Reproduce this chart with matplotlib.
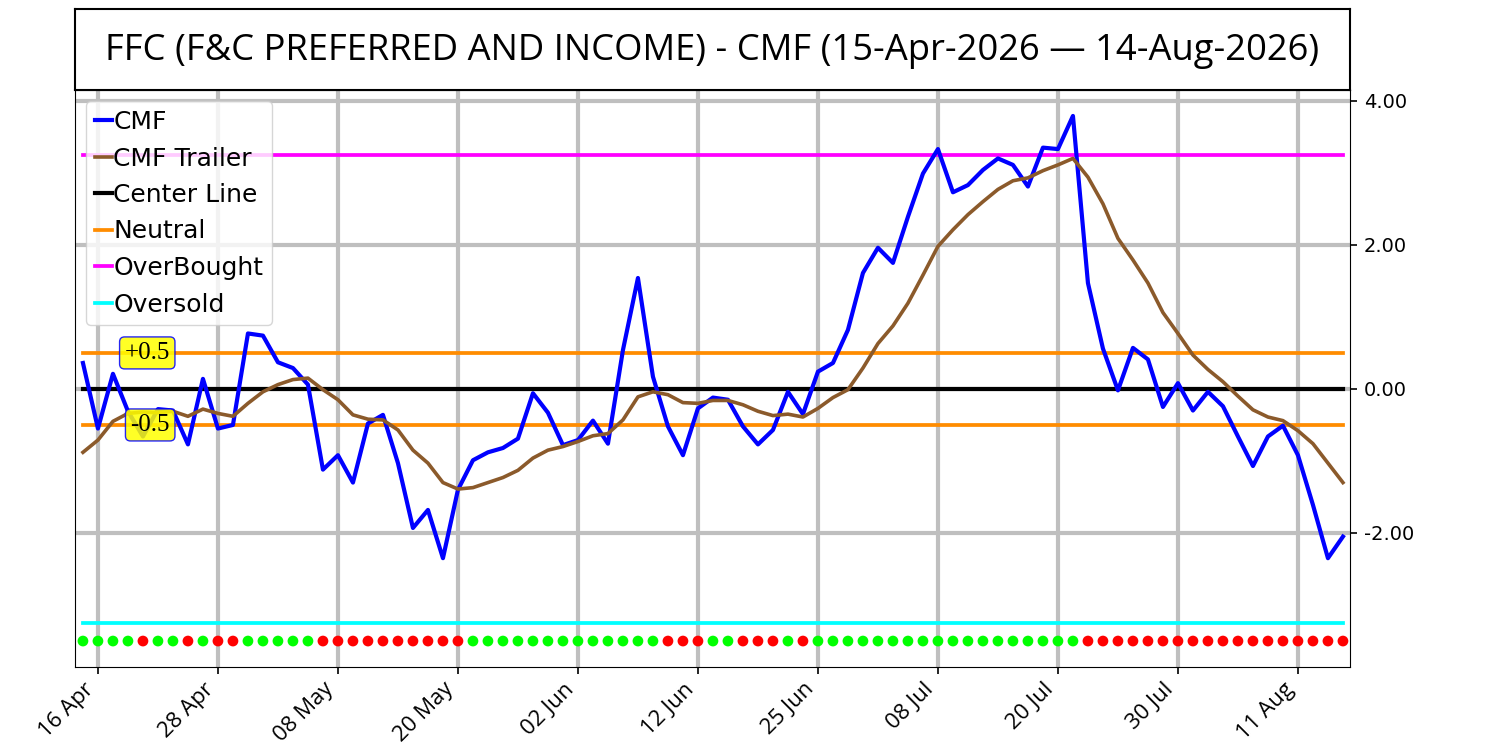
import numpy as np
import matplotlib
matplotlib.use("Agg")
import matplotlib.pyplot as plt

title = "FFC (F&C PREFERRED AND INCOME) - CMF (15-Apr-2026 \u2014 14-Aug-2026)"

cmf = [0.36, -0.55, 0.21, -0.31, -0.66, -0.28, -0.30, -0.77, 0.14, -0.55,
       -0.50, 0.77, 0.74, 0.37, 0.29, 0.06, -1.12, -0.92, -1.30, -0.48,
       -0.36, -1.03, -1.93, -1.68, -2.35, -1.40, -0.99, -0.88, -0.82, -0.69,
       -0.06, -0.33, -0.78, -0.71, -0.44, -0.76, 0.54, 1.54, 0.17, -0.52,
       -0.92, -0.27, -0.12, -0.15, -0.52, -0.77, -0.57, -0.04, -0.35, 0.24,
       0.36, 0.82, 1.61, 1.96, 1.75, 2.39, 2.99, 3.33, 2.73, 2.83,
       3.04, 3.20, 3.11, 2.81, 3.35, 3.33, 3.79, 1.47, 0.56, -0.02,
       0.57, 0.41, -0.25, 0.08, -0.30, -0.04, -0.24, -0.66, -1.07, -0.66,
       -0.51, -0.92, -1.61, -2.35, -2.05]

trailer = [-0.88, -0.71, -0.45, -0.34, -0.32, -0.33, -0.31, -0.38, -0.28, -0.34,
           -0.38, -0.20, -0.04, 0.06, 0.13, 0.15, -0.01, -0.15, -0.36, -0.42,
           -0.43, -0.57, -0.85, -1.03, -1.30, -1.39, -1.37, -1.30, -1.23, -1.13,
           -0.96, -0.85, -0.80, -0.73, -0.65, -0.62, -0.43, -0.11, -0.04, -0.08,
           -0.19, -0.20, -0.16, -0.16, -0.22, -0.31, -0.37, -0.35, -0.39, -0.27,
           -0.12, -0.01, 0.29, 0.63, 0.875, 1.19, 1.58, 1.98, 2.21, 2.42,
           2.60, 2.77, 2.89, 2.93, 3.03, 3.11, 3.20, 2.94, 2.57, 2.09,
           1.79, 1.47, 1.06, 0.77, 0.47, 0.27, 0.10, -0.10, -0.29, -0.39,
           -0.44, -0.58, -0.76, -1.03, -1.30]

# 'G' = green (bullish) dot, 'R' = red (bearish) dot
signal = list("GGGGRGGRGRR" + "GGGGG" + "RRRRRRRRRR" + "GGGGGGGGGGGGG" +
              "RRR" + "GG" + "RRR" + "G" + "R" + "GGGGGGGGGGGGGGGGGG" +
              "RRRRRRRRRRRRRRRRRR")

tick_labels = ["16 Apr", "28 Apr", "08 May", "20 May", "02 Jun", "12 Jun",
               "25 Jun", "08 Jul", "20 Jul", "30 Jul", "11 Aug"]

center_level = 0.0
neutral_hi = 0.5
neutral_lo = -0.5
overbought = 3.25
oversold = -3.25
dot_level = -3.5
y_ticks = [-2.0, 0.0, 2.0, 4.0]

n = len(cmf)
x = np.arange(n)
tick_pos = np.arange(1, n, 8)

fig = plt.figure(figsize=(15, 7.5), dpi=100)
ax = fig.add_axes([0.05, 0.1107, 0.85, 0.7693])
tax = fig.add_axes([0.05, 0.88, 0.85, 0.108])
tax.set_xticks([]); tax.set_yticks([])
for s in tax.spines.values():
    s.set_linewidth(1.5)
tax.text(0.5, 0.48, title, ha="center", va="center", fontsize=26.2,
         family=["Open Sans", "DejaVu Sans"], transform=tax.transAxes)

grid_kw = dict(color="#bfbfbf", lw=3, zorder=0)
for tp in tick_pos:
    ax.axvline(tp, **grid_kw)
for yt in y_ticks:
    ax.axhline(yt, **grid_kw)

ax.plot(x, cmf, color="#0000ff", lw=3, label="CMF", zorder=3)
ax.plot(x, trailer, color="#8b5a2b", lw=2.6, label="CMF Trailer", zorder=3)
ax.plot(x, np.full(n, center_level), color="black", lw=3, label="Center Line", zorder=2)
ax.plot(x, np.full(n, neutral_hi), color="#ff8c00", lw=2.7, label="Neutral", zorder=2)
ax.plot(x, np.full(n, neutral_lo), color="#ff8c00", lw=2.7, zorder=2)
ax.plot(x, np.full(n, overbought), color="#ff00ff", lw=2.7, label="OverBought", zorder=2)
ax.plot(x, np.full(n, oversold), color="#00ffff", lw=2.7, label="Oversold", zorder=2)

dot_colors = ["#00ff00" if s == "G" else "#ff0000" for s in signal]
ax.scatter(x, np.full(n, dot_level), c=dot_colors, s=60, zorder=4, linewidths=0)

box = dict(boxstyle="round,pad=0.2", fc="yellow", ec="blue", alpha=0.85)
ax.text(5.8, neutral_hi, "+0.5", ha="right", va="center", fontsize=18,
        family="Liberation Serif", bbox=box, zorder=5)
ax.text(5.8, neutral_lo, "-0.5", ha="right", va="center", fontsize=18,
        family="Liberation Serif", bbox=box, zorder=5)

ax.set_xlim(-0.53, 84.47)
ax.set_ylim(-3.86, 4.15)
ax.yaxis.tick_right()
ax.set_yticks(y_ticks)
ax.set_yticklabels([f"{v:.2f}" for v in y_ticks], fontsize=14)
ax.set_xticks(tick_pos)
ax.set_xticklabels(tick_labels, rotation=45, ha="right",
                   fontsize=16, family=["Open Sans", "DejaVu Sans"])
ax.tick_params(axis="both", length=5, width=1.2)
ax.tick_params(axis="y", pad=5)

ax.legend(loc="upper left", fontsize=18, handlelength=0.68, handletextpad=0.05,
          borderaxespad=0.45, borderpad=0.35)

fig.savefig("out.png", dpi=100)
